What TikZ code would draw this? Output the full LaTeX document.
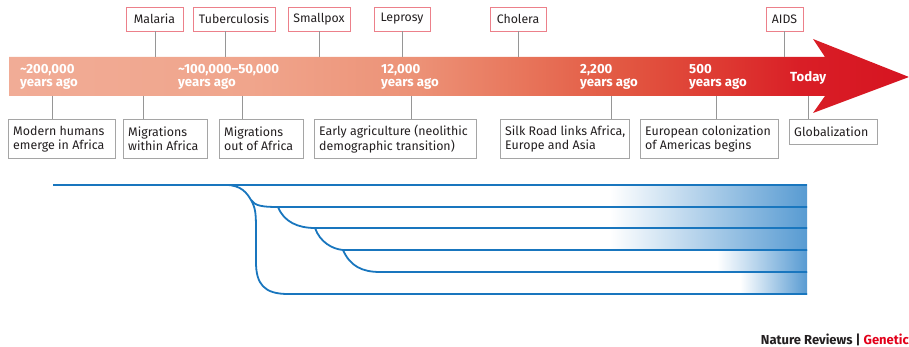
\documentclass[tikz,border=0pt]{standalone}
\usepackage{fontspec}
\setmainfont{Fira Sans}
\usetikzlibrary{calc}

\definecolor{bandA}{RGB}{241,172,150}
\definecolor{bandB}{RGB}{240,165,140}
\definecolor{bandC}{RGB}{236,145,118}
\definecolor{bandD}{RGB}{232,118,92}
\definecolor{bandE}{RGB}{226,88,66}
\definecolor{bandF}{RGB}{222,58,50}
\definecolor{bandG}{RGB}{217,30,38}
\definecolor{bandH}{RGB}{214,20,33}
\definecolor{pinkedge}{RGB}{236,128,138}
\definecolor{greyedge}{RGB}{165,165,165}
\definecolor{pinline}{RGB}{150,150,150}
\definecolor{treeblue}{RGB}{25,118,190}
\definecolor{fadeblue}{RGB}{88,155,210}
\definecolor{natred}{RGB}{226,0,26}
\definecolor{inktext}{RGB}{35,31,32}

\pgfdeclarehorizontalshading{bandshade}{100bp}{%
  color(0bp)=(bandA); color(25bp)=(bandA); color(38.4bp)=(bandB);
  color(47.8bp)=(bandC); color(53.4bp)=(bandD); color(59bp)=(bandE);
  color(64.5bp)=(bandF); color(69bp)=(bandG); color(75bp)=(bandH);
  color(100bp)=(bandH)}

\tikzset{
  disease/.style={draw=pinkedge, line width=0.9pt, fill=white, inner sep=0pt,
    minimum height=24pt, font=\fontsize{12.3}{13}\selectfont, text=inktext},
  eventbox/.style={draw=greyedge, line width=0.9pt, fill=white, anchor=north west,
    inner sep=0pt, minimum height=39pt},
  eventtext/.style={anchor=west, inner xsep=5pt, inner ysep=0pt, align=left,
    font=\fontsize{12.4}{14.3}\selectfont, text=inktext},
  era/.style={anchor=west, inner sep=0pt, align=left, text=white,
    font=\fontsize{13.2}{12.3}\selectfont\bfseries},
  pin/.style={draw=pinline, line width=0.8pt},
  lineage/.style={draw=treeblue, line width=1.8pt},
}

\begin{document}
\begin{tikzpicture}[x=1pt, y=-1pt]
\useasboundingbox (0,0) rectangle (909,347);

% timeline arrow with red gradient
\path[shading=bandshade]
  (9,57) -- (825,57) -- (813,39) -- (909,77) -- (813,113) -- (825,96) -- (9,96) -- cycle;

% era labels on the band
\node[era] (t200k) at (20,77) {\textasciitilde 200,000\\years ago};
\node[era] (t100k) at (178,77) {\textasciitilde 100,000–50,000\\years ago};
\node[era] (t12k) at (381,77) {12,000\\years ago};
\node[era] (t2200) at (580,77) {2,200\\years ago};
\node[era] (t500) at (689,77) {500\\years ago};
\node[era] (today) at (790,78) {Today};

% diseases above the band
\node[disease, minimum width=57pt] (malaria) at (154.5,19) {Malaria};
\node[disease, minimum width=82pt] (tb) at (234,19) {Tuberculosis};
\node[disease, minimum width=62pt] (smallpox) at (319,19) {Smallpox};
\node[disease, minimum width=56pt] (leprosy) at (402,19) {Leprosy};
\node[disease, minimum width=56pt] (cholera) at (518,19) {Cholera};
\node[disease, minimum width=37pt] (aids) at (784.5,19) {AIDS};

% anchor points on the upper edge of the band
\coordinate (pmal) at (155,57);
\coordinate (ptb) at (225,57);
\coordinate (psp) at (319,57);
\coordinate (plep) at (402,57);
\coordinate (pcho) at (518,57);
\coordinate (paids) at (784,57);
\draw[pin] (malaria.south -| pmal) -- (pmal);
\draw[pin] (tb.south -| ptb) -- (ptb);
\draw[pin] (smallpox.south -| psp) -- (psp);
\draw[pin] (leprosy.south -| plep) -- (plep);
\draw[pin] (cholera.south -| pcho) -- (pcho);
\draw[pin] (aids.south -| paids) -- (paids);

% event frames below the band
\node[eventbox, minimum width=107pt] (emerge) at (8,119) {};
\node[eventbox, minimum width=84pt] (within) at (123,119) {};
\node[eventbox, minimum width=84pt] (outof) at (219,119) {};
\node[eventbox, minimum width=162pt] (agri) at (314,119) {};
\node[eventbox, minimum width=129pt] (silk) at (500,119) {};
\node[eventbox, minimum width=138pt] (euro) at (640,119) {};
\node[eventbox, minimum width=88pt, minimum height=25pt] (glob) at (789,119) {};

% event captions, set flush left inside their frames
\node[eventtext] (emergetxt) at (emerge.west) {Modern humans\\emerge in Africa};
\node[eventtext] (withintxt) at (within.west) {Migrations\\within Africa};
\node[eventtext] (outoftxt) at (outof.west) {Migrations\\out of Africa};
\node[eventtext] (agritxt) at (agri.west) {Early agriculture (neolithic\\demographic transition)};
\node[eventtext] (silktxt) at (silk.west) {Silk Road links Africa,\\Europe and Asia};
\node[eventtext] (eurotxt) at (euro.west) {European colonization\\of Americas begins};
\node[eventtext] (globtxt) at (glob.west) {Globalization};

% anchor points on the lower edge of the band
\coordinate (qemerge) at (52,96);
\coordinate (qwithin) at (143,96);
\coordinate (qout) at (242,96);
\coordinate (qagri) at (411,96);
\coordinate (qsilk) at (611,96);
\coordinate (qeuro) at (716,96);
\coordinate (qglob) at (808,96);
\draw[pin] (qemerge) -- (emerge.north -| qemerge);
\draw[pin] (qwithin) -- (within.north -| qwithin);
\draw[pin] (qout) -- (outof.north -| qout);
\draw[pin] (qagri) -- (agri.north -| qagri);
\draw[pin] (qsilk) -- (silk.north -| qsilk);
\draw[pin] (qeuro) -- (euro.north -| qeuro);
\draw[pin] (qglob) -- (glob.north -| qglob);

% fading blue blocks behind the present-day lineages
\shade[left color=white, right color=fadeblue] (610,185) rectangle (807,250);
\shade[left color=white, right color=fadeblue] (717,250) rectangle (807,272);
\shade[left color=white, right color=fadeblue] (740,272) rectangle (807,294);

% lineage tree
\draw[lineage] (53,185) -- (807,185);
\coordinate (split) at (251,200);
\draw[lineage] (226,185) .. controls (241,185) and (247,193) .. (split);
\draw[lineage] (split) .. controls (255,206) and (263,207) .. (278,207) -- (807,207);
\draw[lineage] (split) .. controls (255,207) and (256,212) .. (256,228) -- (256,262)
  .. controls (256,284) and (264,294) .. (288,294) -- (807,294);
\draw[lineage] (278,207) .. controls (284,222) and (298,228) .. (315,228) -- (807,228);
\draw[lineage] (315,228) .. controls (320,242) and (332,249) .. (343,250) -- (807,250);
\draw[lineage] (343,250) .. controls (350,266) and (362,272) .. (380,272) -- (807,272);

% publication credit
\node[anchor=base east, inner sep=0pt, font=\fontsize{13}{14}\selectfont\bfseries, text=inktext]
  (credit) at (909,344) {Nature Reviews | \textcolor{natred}{Genetic}};
\end{tikzpicture}
\end{document}
